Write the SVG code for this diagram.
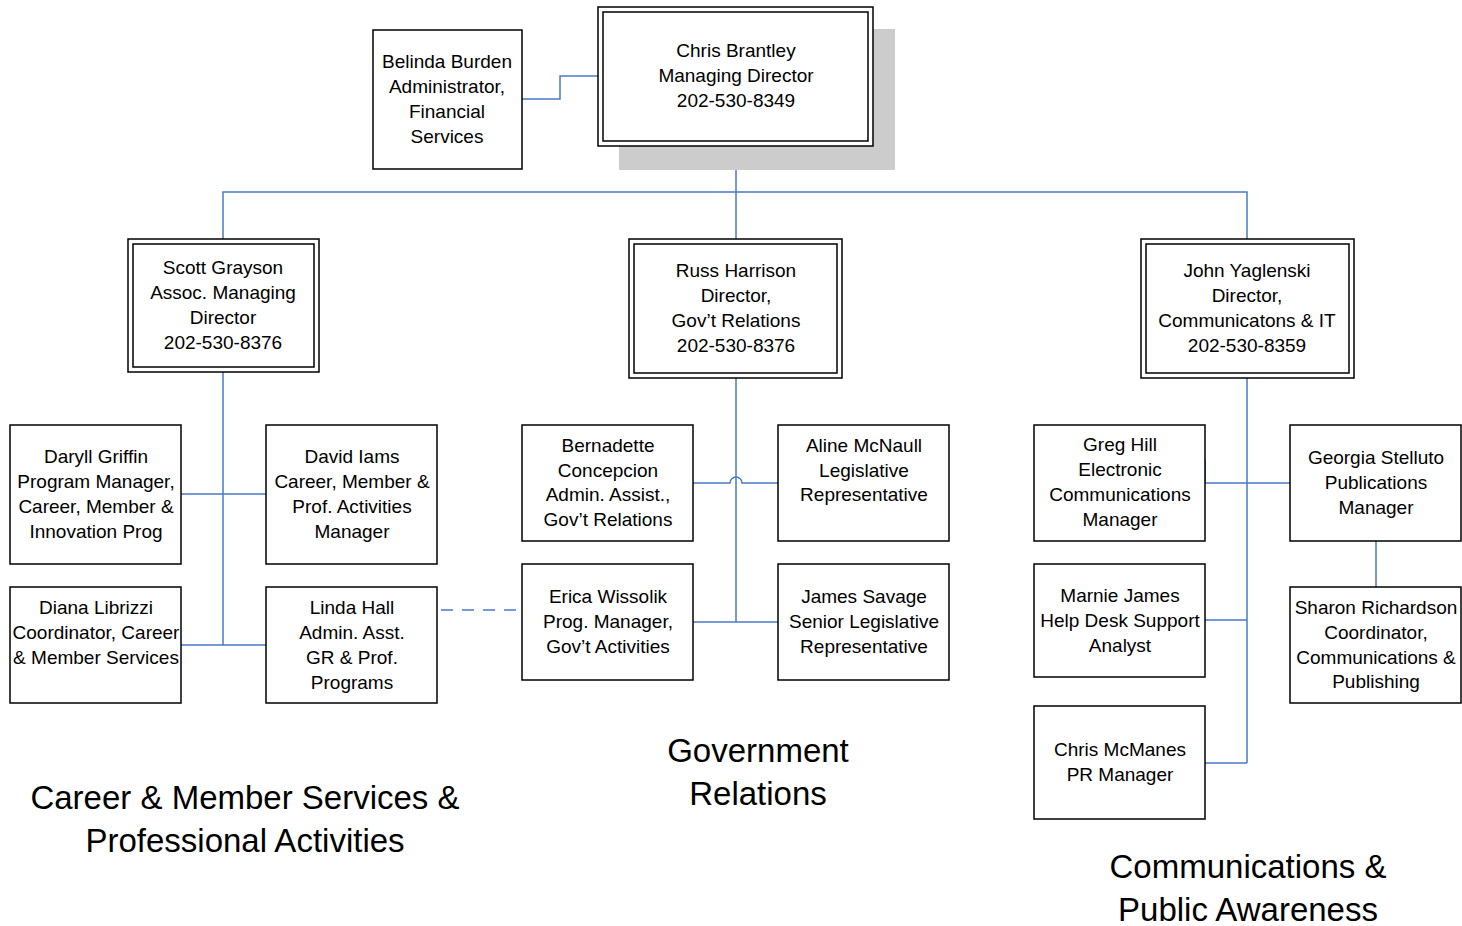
<svg xmlns="http://www.w3.org/2000/svg" width="1462" height="926" viewBox="0 0 1462 926">
<style>
.box{fill:#fff;stroke:#000;stroke-width:1.5}
.in{fill:none;stroke:#000;stroke-width:1.5}
.t{font-family:"Liberation Sans",Arial,sans-serif;font-size:19px;fill:#000;text-anchor:middle}
.big{font-family:"Liberation Sans",Arial,sans-serif;font-size:33px;fill:#000;text-anchor:middle}
.c{fill:none;stroke:#4A7AC8;stroke-width:1.5}
</style>
<rect width="1462" height="926" fill="#fff"/>
<g id="connectors">
<path class="c" d="M522,99 H560 V76 H598"/>
<path class="c" d="M736,146 V239 M223,239 V192 H1247 V239"/>
<path class="c" d="M223,372 V645 M181,494 H266 M181,645 H266"/>
<path class="c" d="M441,610 H516" stroke-dasharray="12,9"/>
<path class="c" d="M736,378 V622 M693,622 H778 M693,483 H730 A6,6 0 0 1 742,483 H778"/>
<path class="c" d="M1247,378 V763 M1205,483 H1290 M1205,459 V483 M1205,620 H1247 M1205,763 H1247 M1376,541 V587"/>
</g>
<g id="chris-brantley">
<rect x="619" y="29" width="276" height="141" fill="#cccccc"/>
<rect class="box" x="598" y="7" width="275" height="139"/>
<rect class="in" x="603" y="12" width="265" height="129"/>
<text class="t" x="736" y="57">Chris Brantley</text>
<text class="t" x="736" y="82">Managing Director</text>
<text class="t" x="736" y="107">202-530-8349</text>
</g>
<g id="belinda-burden">
<rect class="box" x="373" y="30" width="149" height="139"/>
<text class="t" x="447" y="68">Belinda Burden</text>
<text class="t" x="447" y="93">Administrator,</text>
<text class="t" x="447" y="118">Financial</text>
<text class="t" x="447" y="143">Services</text>
</g>
<g id="scott-grayson">
<rect class="box" x="128" y="239" width="191" height="133"/>
<rect class="in" x="133" y="244" width="181" height="123"/>
<text class="t" x="223" y="274">Scott Grayson</text>
<text class="t" x="223" y="299">Assoc. Managing</text>
<text class="t" x="223" y="324">Director</text>
<text class="t" x="223" y="349">202-530-8376</text>
</g>
<g id="russ-harrison">
<rect class="box" x="629" y="239" width="213" height="139"/>
<rect class="in" x="634" y="244" width="203" height="129"/>
<text class="t" x="736" y="277">Russ Harrison</text>
<text class="t" x="736" y="302">Director,</text>
<text class="t" x="736" y="327">Gov’t Relations</text>
<text class="t" x="736" y="352">202-530-8376</text>
</g>
<g id="john-yaglenski">
<rect class="box" x="1141" y="239" width="213" height="139"/>
<rect class="in" x="1146" y="244" width="203" height="129"/>
<text class="t" x="1247" y="277">John Yaglenski</text>
<text class="t" x="1247" y="302">Director,</text>
<text class="t" x="1247" y="327">Communicatons &amp; IT</text>
<text class="t" x="1247" y="352">202-530-8359</text>
</g>
<g id="daryll-griffin">
<rect class="box" x="10" y="425" width="171" height="139"/>
<text class="t" x="96" y="463">Daryll Griffin</text>
<text class="t" x="96" y="488">Program Manager,</text>
<text class="t" x="96" y="513">Career, Member &amp;</text>
<text class="t" x="96" y="538">Innovation Prog</text>
</g>
<g id="david-iams">
<rect class="box" x="266" y="425" width="171" height="139"/>
<text class="t" x="352" y="463">David Iams</text>
<text class="t" x="352" y="488">Career, Member &amp;</text>
<text class="t" x="352" y="513">Prof. Activities</text>
<text class="t" x="352" y="538">Manager</text>
</g>
<g id="diana-librizzi">
<rect class="box" x="10" y="587" width="171" height="116"/>
<text class="t" x="96" y="614">Diana Librizzi</text>
<text class="t" x="96" y="639">Coordinator, Career</text>
<text class="t" x="96" y="664">&amp; Member Services</text>
</g>
<g id="linda-hall">
<rect class="box" x="266" y="587" width="171" height="116"/>
<text class="t" x="352" y="614">Linda Hall</text>
<text class="t" x="352" y="639">Admin. Asst.</text>
<text class="t" x="352" y="664">GR &amp; Prof.</text>
<text class="t" x="352" y="689">Programs</text>
</g>
<g id="bernadette-concepcion">
<rect class="box" x="522" y="425" width="171" height="116"/>
<text class="t" x="608" y="452">Bernadette</text>
<text class="t" x="608" y="477">Concepcion</text>
<text class="t" x="608" y="501">Admin. Assist.,</text>
<text class="t" x="608" y="526">Gov’t Relations</text>
</g>
<g id="aline-mcnaull">
<rect class="box" x="778" y="425" width="171" height="116"/>
<text class="t" x="864" y="452">Aline McNaull</text>
<text class="t" x="864" y="477">Legislative</text>
<text class="t" x="864" y="501">Representative</text>
</g>
<g id="erica-wissolik">
<rect class="box" x="522" y="564" width="171" height="116"/>
<text class="t" x="608" y="603">Erica Wissolik</text>
<text class="t" x="608" y="628">Prog. Manager,</text>
<text class="t" x="608" y="653">Gov’t Activities</text>
</g>
<g id="james-savage">
<rect class="box" x="778" y="564" width="171" height="116"/>
<text class="t" x="864" y="603">James Savage</text>
<text class="t" x="864" y="628">Senior Legislative</text>
<text class="t" x="864" y="653">Representative</text>
</g>
<g id="greg-hill">
<rect class="box" x="1034" y="425" width="171" height="116"/>
<text class="t" x="1120" y="451">Greg Hill</text>
<text class="t" x="1120" y="476">Electronic</text>
<text class="t" x="1120" y="501">Communications</text>
<text class="t" x="1120" y="526">Manager</text>
</g>
<g id="georgia-stelluto">
<rect class="box" x="1290" y="425" width="171" height="116"/>
<text class="t" x="1376" y="464">Georgia Stelluto</text>
<text class="t" x="1376" y="489">Publications</text>
<text class="t" x="1376" y="514">Manager</text>
</g>
<g id="marnie-james">
<rect class="box" x="1034" y="564" width="171" height="113"/>
<text class="t" x="1120" y="602">Marnie James</text>
<text class="t" x="1120" y="627">Help Desk Support</text>
<text class="t" x="1120" y="652">Analyst</text>
</g>
<g id="sharon-richardson">
<rect class="box" x="1290" y="587" width="171" height="116"/>
<text class="t" x="1376" y="614">Sharon Richardson</text>
<text class="t" x="1376" y="639">Coordinator,</text>
<text class="t" x="1376" y="664">Communications &amp;</text>
<text class="t" x="1376" y="688">Publishing</text>
</g>
<g id="chris-mcmanes">
<rect class="box" x="1034" y="706" width="171" height="113"/>
<text class="t" x="1120" y="756">Chris McManes</text>
<text class="t" x="1120" y="781">PR Manager</text>
</g>
<g id="titles">
<text class="big" x="245" y="809">Career &amp; Member Services &amp;</text>
<text class="big" x="245" y="852">Professional Activities</text>
<text class="big" x="758" y="762">Government</text>
<text class="big" x="758" y="805">Relations</text>
<text class="big" x="1248" y="878">Communications &amp;</text>
<text class="big" x="1248" y="921">Public Awareness</text>
</g>
</svg>
